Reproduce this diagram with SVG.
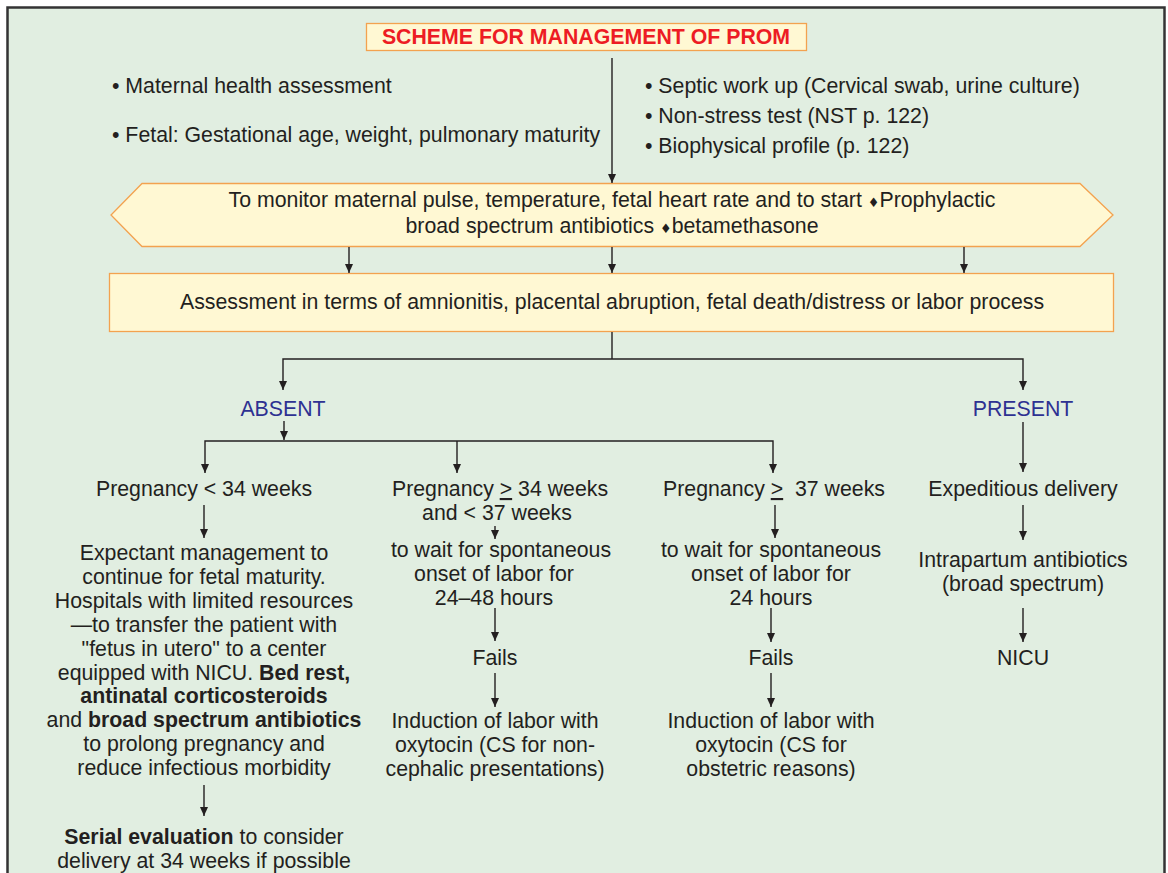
<svg xmlns="http://www.w3.org/2000/svg" width="1168" height="873" viewBox="0 0 1168 873">
<style>
text{font-family:"Liberation Sans",Arial,sans-serif;font-size:21.3px;fill:#231F20}
.c{text-anchor:middle}
.b{font-weight:bold}
.blue{fill:#2E3192}
.title{fill:#ED1C24;font-weight:bold;font-size:21.3px}
.dia{font-family:"DejaVu Sans",sans-serif;font-size:13px}
.box{fill:#FFF8D3;stroke:#F3A24F;stroke-width:1.3}
.con path{fill:none;stroke:#231F20;stroke-width:1.4;marker-end:url(#ah)}
.con path.nm{marker-end:none}
</style>
<defs>
<marker id="ah" markerUnits="userSpaceOnUse" markerWidth="9" markerHeight="8" refX="9" refY="4" orient="auto" viewBox="0 0 9 8">
<path d="M0,0 L9,4 L0,8 z" fill="#231F20"/>
</marker>
</defs>
<rect x="0" y="0" width="1168" height="873" fill="#ffffff"/>
<rect x="7.5" y="7.5" width="1157" height="880" fill="#E1EEE1" stroke="#333333" stroke-width="2.5"/>

<g id="title">
<rect class="box" x="366.5" y="23.5" width="440" height="27"/>
<text class="title c" x="586" y="44">SCHEME FOR MANAGEMENT OF PROM</text>
</g>

<g id="left-bullets">
<text x="112" y="93">• Maternal health assessment</text>
<text x="112" y="142">• Fetal: Gestational age, weight, pulmonary maturity</text>
</g>
<g id="right-bullets">
<text x="645" y="93">• Septic work up (Cervical swab, urine culture)</text>
<text x="645" y="123">• Non-stress test (NST p. 122)</text>
<text x="645" y="153">• Biophysical profile (p. 122)</text>
</g>

<g id="monitor">
<polygon class="box" points="142,183.5 1080,183.5 1113,215 1080,246.5 142,246.5 111,215"/>
<text class="c" x="612" y="207">To monitor maternal pulse, temperature, fetal heart rate and to start <tspan class="dia">♦</tspan>Prophylactic</text>
<text class="c" x="612" y="233">broad spectrum antibiotics <tspan class="dia">♦</tspan>betamethasone</text>
</g>

<g id="assessment">
<rect class="box" x="109.5" y="273.5" width="1004" height="58"/>
<text class="c" x="612" y="309">Assessment in terms of amnionitis, placental abruption, fetal death/distress or labor process</text>
</g>

<g id="absent"><text class="c blue" x="283" y="416">ABSENT</text></g>
<g id="present"><text class="c blue" x="1023" y="416">PRESENT</text></g>

<g id="preg-lt34">
<text class="c" x="204" y="496">Pregnancy &lt; 34 weeks</text>
</g>
<g id="expectant">
<text class="c" x="204" y="560">Expectant management to</text>
<text class="c" x="204" y="584">continue for fetal maturity.</text>
<text class="c" x="204" y="608">Hospitals with limited resources</text>
<text class="c" x="204" y="632">—to transfer the patient with</text>
<text class="c" x="204" y="656">"fetus in utero" to a center</text>
<text class="c" x="204" y="680">equipped with NICU. <tspan class="b">Bed rest,</tspan></text>
<text class="c b" x="204" y="703">antinatal corticosteroids</text>
<text class="c" x="204" y="727">and <tspan class="b">broad spectrum antibiotics</tspan></text>
<text class="c" x="204" y="751">to prolong pregnancy and</text>
<text class="c" x="204" y="775">reduce infectious morbidity</text>
</g>
<g id="serial">
<text class="c" x="204" y="844"><tspan class="b">Serial evaluation</tspan> to consider</text>
<text class="c" x="204" y="868">delivery at 34 weeks if possible</text>
</g>

<g id="preg-34-37">
<text class="c" x="500" y="496">Pregnancy <tspan text-decoration="underline">&gt;</tspan> 34 weeks</text>
<text class="c" x="497" y="520">and &lt; 37 weeks</text>
</g>
<g id="wait-24-48">
<text class="c" x="501" y="557">to wait for spontaneous</text>
<text class="c" x="494" y="581">onset of labor for</text>
<text class="c" x="494" y="605">24–48 hours</text>
</g>
<g id="fails-1"><text class="c" x="495" y="665">Fails</text></g>
<g id="induction-1">
<text class="c" x="495" y="728">Induction of labor with</text>
<text class="c" x="495" y="752">oxytocin (CS for non-</text>
<text class="c" x="495" y="776">cephalic presentations)</text>
</g>

<g id="preg-ge37">
<text class="c" x="774" y="496" xml:space="preserve">Pregnancy <tspan text-decoration="underline">&gt;</tspan>  37 weeks</text>
</g>
<g id="wait-24">
<text class="c" x="771" y="557">to wait for spontaneous</text>
<text class="c" x="771" y="581">onset of labor for</text>
<text class="c" x="771" y="605">24 hours</text>
</g>
<g id="fails-2"><text class="c" x="771" y="665">Fails</text></g>
<g id="induction-2">
<text class="c" x="771" y="728">Induction of labor with</text>
<text class="c" x="771" y="752">oxytocin (CS for</text>
<text class="c" x="771" y="776">obstetric reasons)</text>
</g>

<g id="expeditious"><text class="c" x="1023" y="496">Expeditious delivery</text></g>
<g id="intrapartum">
<text class="c" x="1023" y="567">Intrapartum antibiotics</text>
<text class="c" x="1023" y="591">(broad spectrum)</text>
</g>
<g id="nicu"><text class="c" x="1023" y="665">NICU</text></g>

<g id="connectors" class="con">
<path d="M612,58 V183"/>
<path d="M349,247 V273"/>
<path d="M612,247 V273"/>
<path d="M964,247 V273"/>
<path class="nm" d="M612,332 V359"/>
<path d="M612,359 H283 V390"/>
<path d="M612,359 H1023 V390"/>
<path d="M284,421 V440"/>
<path d="M457,441 H205 V473"/>
<path d="M457,441 V473"/>
<path d="M457,441 H773 V473"/>
<path d="M1023,422 V472"/>
<path d="M204,505 V538"/>
<path d="M204,785 V816"/>
<path d="M495,526 V539"/>
<path d="M495,608 V641"/>
<path d="M495,673 V707"/>
<path d="M775,505 V538"/>
<path d="M771,608 V642"/>
<path d="M771,673 V707"/>
<path d="M1023,505 V540"/>
<path d="M1023,608 V642"/>
</g>
</svg>
